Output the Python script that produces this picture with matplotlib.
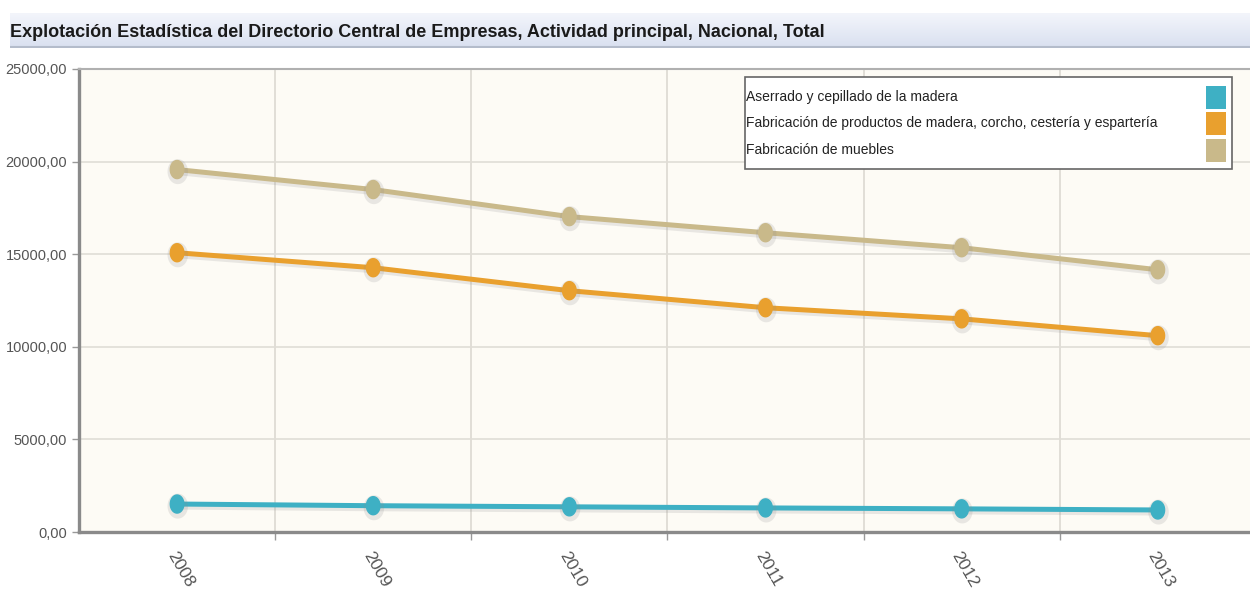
import numpy as np
import matplotlib
matplotlib.use("Agg")
import matplotlib.pyplot as plt
import matplotlib.patheffects as pe
from matplotlib.patches import Rectangle
from matplotlib.path import Path
from matplotlib.colors import LinearSegmentedColormap
from matplotlib.ticker import FuncFormatter, FixedLocator

plt.rcParams['font.family'] = ['Liberation Sans', 'DejaVu Sans']

# Data
years = ["2008", "2009", "2010", "2011", "2012", "2013"]
aserrado = [1510, 1420, 1360, 1300, 1250, 1190]
productos_madera = [15080, 14270, 13030, 12110, 11510, 10600]
muebles = [19570, 18490, 17030, 16160, 15350, 14160]

labels = [
    "Aserrado y cepillado de la madera",
    "Fabricación de productos de madera, corcho, cestería y espartería",
    "Fabricación de muebles",
]
colors = ["#3eb0c4", "#e9a02e", "#c9b98a"]
series = [aserrado, productos_madera, muebles]

fig = plt.figure(figsize=(12.5, 6.01), dpi=100)

# title band
band = fig.add_axes([10 / 1250, 1 - 48 / 601, 1240 / 1250, 35 / 601])
grad = np.linspace(0, 1, 50).reshape(-1, 1)
cmap = LinearSegmentedColormap.from_list("band", ["#f3f5fb", "#d9e0f0"])
band.imshow(grad, aspect="auto", cmap=cmap, extent=[0, 1, 0, 1])
band.axhline(0.02, color="#b4bccb", lw=1.5)
band.set_axis_off()
band.text(0.0, 0.45, "Explotación Estadística del Directorio Central de Empresas, Actividad principal, Nacional, Total",
          fontsize=13.0, fontweight="bold", color="#1a1a1a", va="center", ha="left",
          transform=band.transAxes)

ax = fig.add_axes([79 / 1250, 1 - 532 / 601, 1 - 79 / 1250, (532 - 69) / 601])
ax.set_facecolor("#fdfbf5")

# slightly tall oval marker like the original
t = np.linspace(0, 2 * np.pi, 40)
oval = Path(np.column_stack([np.cos(t) * 0.75, np.sin(t)]), closed=True)

x = np.arange(len(years)) + 0.5
shadow = [pe.SimpleLineShadow(offset=(0.5, -1.5), shadow_color="#8c8c8c", alpha=0.18, linewidth=5), pe.Normal()]
for vals, col in zip(series, colors):
    ax.plot(x, vals, color=col, lw=3.6, marker=oval, markersize=13,
            markeredgecolor=col, zorder=3, path_effects=shadow)

ax.set_xlim(0, 5.97)
ax.set_ylim(0, 25000)

ax.set_yticks(np.arange(0, 25001, 5000))
ax.yaxis.set_major_formatter(FuncFormatter(lambda v, p: f"{v:.2f}".replace(".", ",")))
ax.tick_params(axis="y", labelsize=10.5, labelcolor="#555555", color="#999999", length=5, width=1)

ax.set_xticks(x)
ax.set_xticklabels(years, rotation=-60, ha="left", va="top", rotation_mode="anchor",
                   fontsize=12.5, color="#555555")
ax.tick_params(axis="x", which="major", length=0, pad=12)
ax.xaxis.set_minor_locator(FixedLocator(np.arange(1, 6)))
ax.tick_params(axis="x", which="minor", length=6, color="#999999", width=1)

ax.grid(True, axis="y", color="#e0ddd6", lw=1.2)
ax.grid(True, axis="x", which="minor", color="#dcd9d2", lw=1.2)
ax.set_axisbelow(True)

for s in ["left", "bottom"]:
    ax.spines[s].set_color("#8a8a8a")
    ax.spines[s].set_linewidth(2.4)
ax.spines["top"].set_color("#b0b0b0")
ax.spines["top"].set_linewidth(1.5)
ax.spines["right"].set_visible(False)

# legend box: labels left, colour squares on the right
lx0, ly0 = 745 / 1250, 1 - 169 / 601
lw, lh = (1232 - 745) / 1250, (169 - 77) / 601
fig.patches.append(Rectangle((lx0, ly0), lw, lh, transform=fig.transFigure,
                             facecolor="white", edgecolor="#666666", lw=1.2, zorder=5))
text_y = [97, 123, 150]
box_y = [86, 112, 139]
for lab, col, ty, by in zip(labels, colors, text_y, box_y):
    fig.text(746 / 1250, 1 - ty / 601, lab, fontsize=10, color="#222222", va="center", ha="left", zorder=6)
    fig.patches.append(Rectangle((1206 / 1250, 1 - (by + 23) / 601), 20 / 1250, 23 / 601,
                                 transform=fig.transFigure, facecolor=col, edgecolor="none", zorder=6))

fig.savefig("out.png", dpi=100)
